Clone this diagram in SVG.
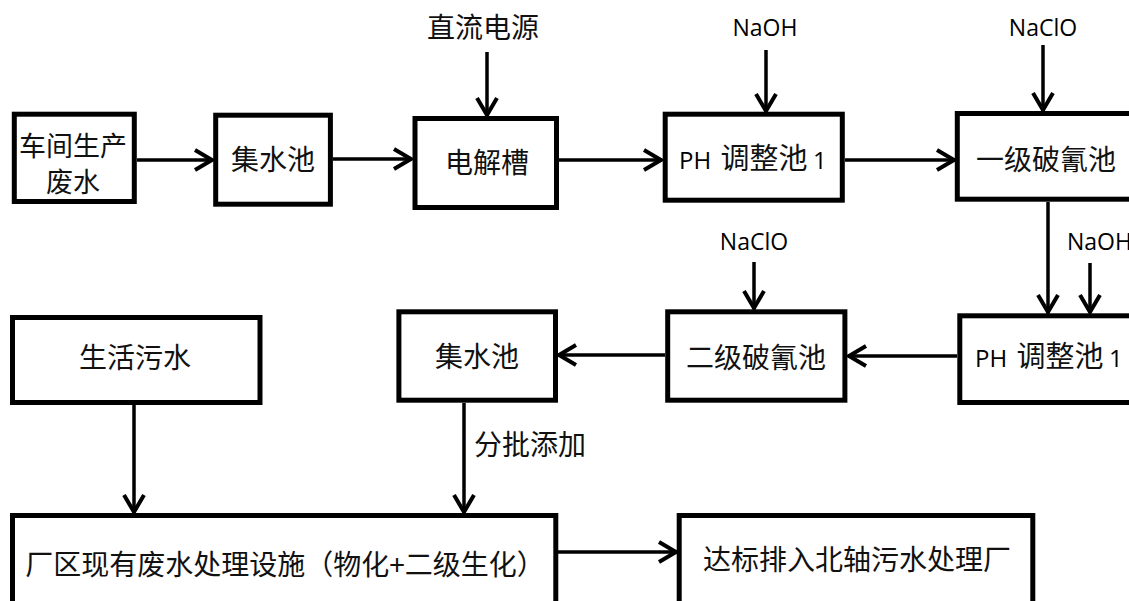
<svg xmlns="http://www.w3.org/2000/svg" width="1129" height="601" viewBox="0 0 1129 601">
<style>
.box{fill:none;stroke:#000;stroke-width:5;stroke-linejoin:miter}
.con line{stroke:#000;stroke-width:3.5;marker-end:url(#ah)}
.cjk{font-family:"Noto Sans CJK SC","Noto Sans CJK JP",sans-serif;font-size:28px;fill:#111}
.cjk2{font-family:"Noto Sans CJK SC","Noto Sans CJK JP",sans-serif;font-size:29px;fill:#111}
.cjk3{font-family:"Noto Sans CJK SC","Noto Sans CJK JP",sans-serif;font-size:27px;fill:#111}
.lat{font-family:"Open Sans","Noto Sans",sans-serif;font-size:23px;fill:#000}
.lat2{font-family:"Open Sans","Noto Sans",sans-serif;font-size:24px;fill:#000}
.mid{text-anchor:middle}
</style>
<defs>
<marker id="ah" markerUnits="userSpaceOnUse" markerWidth="30" markerHeight="30" refX="1" refY="0" orient="auto" overflow="visible">
<path d="M-17,-10 L0,0 L-17,10" fill="none" stroke="#000" stroke-width="4"/>
</marker>
</defs>
<rect width="1129" height="601" fill="#fff"/>

<g id="connectors" class="con">
<line x1="137" y1="160" x2="213" y2="160"/>
<line x1="333" y1="159" x2="412" y2="159"/>
<line x1="559" y1="160" x2="662" y2="160"/>
<line x1="845" y1="160" x2="955" y2="160"/>
<line x1="487" y1="52" x2="487" y2="116"/>
<line x1="766" y1="50" x2="766" y2="112"/>
<line x1="1043" y1="45" x2="1043" y2="111"/>
<line x1="1048" y1="202" x2="1048" y2="313"/>
<line x1="1090" y1="263" x2="1090" y2="313"/>
<line x1="754" y1="262" x2="754" y2="309"/>
<line x1="957" y1="356" x2="848" y2="356"/>
<line x1="665" y1="355" x2="558" y2="355"/>
<line x1="134" y1="405" x2="134" y2="513"/>
<line x1="464" y1="403" x2="464" y2="513"/>
<line x1="558" y1="552" x2="677" y2="552"/>
</g>

<g id="n-wastewater">
<rect class="box" x="14.3" y="114.2" width="120" height="87.3"/>
<text class="cjk3 mid" x="73" y="156">车间生产</text>
<text class="cjk3 mid" x="73" y="192">废水</text>
</g>
<g id="n-tank1">
<rect class="box" x="215.7" y="115.2" width="114.7" height="89"/>
<text class="cjk mid" x="273" y="170">集水池</text>
</g>
<g id="n-electrolysis">
<rect class="box" x="415" y="118.5" width="141.5" height="89"/>
<text class="cjk mid" x="487" y="173">电解槽</text>
</g>
<g id="n-dc">
<text class="cjk mid" x="483" y="38">直流电源</text>
</g>
<g id="n-naoh1">
<text class="lat mid" x="765" y="36">NaOH</text>
</g>
<g id="n-ph1">
<rect class="box" x="665.2" y="114.2" width="177.1" height="86"/>
<text x="679" y="169"><tspan class="lat2">PH </tspan><tspan class="cjk2" dx="3">调整池 </tspan><tspan class="lat2" dx="-1">1</tspan></text>
</g>
<g id="n-naclo1">
<text class="lat mid" x="1043" y="36">NaClO</text>
</g>
<g id="n-cn1">
<rect class="box" x="957.3" y="113.5" width="250" height="85.7"/>
<text class="cjk mid" x="1046" y="170">一级破氰池</text>
</g>
<g id="n-naclo2">
<text class="lat mid" x="754" y="250">NaClO</text>
</g>
<g id="n-naoh2">
<text class="lat" x="1067" y="250">NaOH</text>
</g>
<g id="n-ph2">
<rect class="box" x="959.8" y="315.8" width="250" height="86.7"/>
<text x="975" y="367"><tspan class="lat2">PH </tspan><tspan class="cjk2" dx="3">调整池 </tspan><tspan class="lat2" dx="-1">1</tspan></text>
</g>
<g id="n-cn2">
<rect class="box" x="667.7" y="311.8" width="177.2" height="88.4"/>
<text class="cjk mid" x="756" y="368">二级破氰池</text>
</g>
<g id="n-tank2">
<rect class="box" x="398.9" y="311.8" width="156.6" height="88.4"/>
<text class="cjk mid" x="477" y="367">集水池</text>
</g>
<g id="n-domestic">
<rect class="box" x="12.5" y="317.5" width="247.5" height="85"/>
<text class="cjk mid" x="135" y="368">生活污水</text>
</g>
<g id="l-batch">
<text class="cjk mid" x="530" y="455">分批添加</text>
</g>
<g id="n-existing">
<rect class="box" x="12.5" y="515.5" width="543.3" height="120"/>
<text class="cjk mid" x="285" y="575">厂区现有废水处理设施（物化+二级生化）</text>
</g>
<g id="n-discharge">
<rect class="box" x="679.2" y="515.5" width="353.6" height="120"/>
<text class="cjk mid" x="857" y="570">达标排入北轴污水处理厂</text>
</g>
</svg>
